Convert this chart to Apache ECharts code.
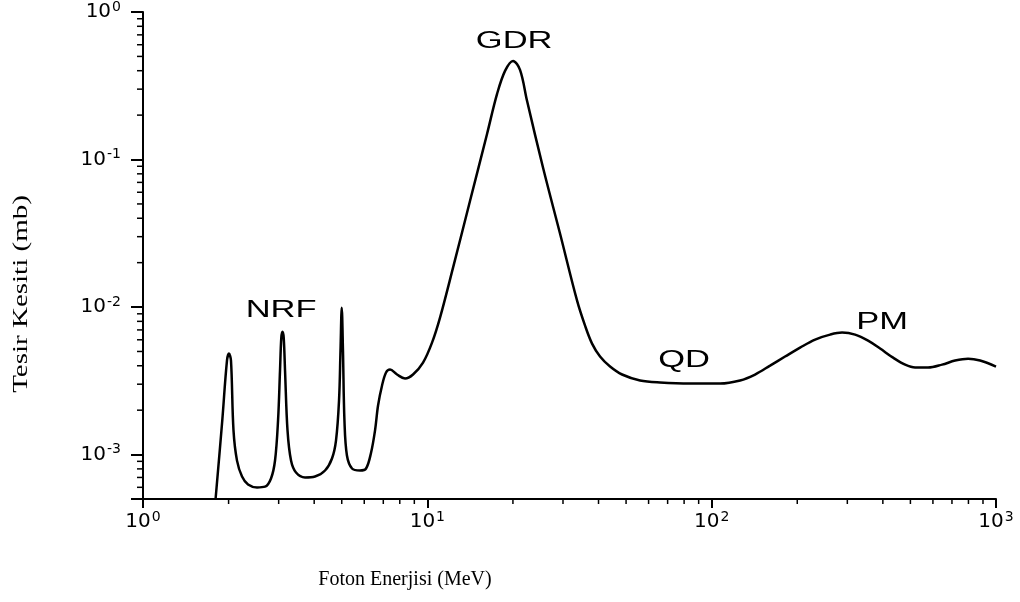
<!DOCTYPE html>
<html>
<head>
<meta charset="utf-8">
<title>Tesir Kesiti</title>
<script src="https://cdn.jsdelivr.net/npm/echarts@6/dist/echarts.min.js"></script>
<style>
html, body { margin: 0; padding: 0; background: #fff; }
#chart { width: 1020px; height: 602px; }
</style>
</head>
<body>
<div id="chart"></div>
<script>
// foton enerjisi (MeV) ve tesir kesiti (mb)
const energy = [
    1.80, 1.90, 1.974, 2.006, 2.039, 2.081, 2.141, 2.230, 2.341, 2.518,
    2.686, 2.82, 2.913, 2.985, 3.033, 3.065, 3.095, 3.125, 3.159, 3.223,
    3.316, 3.453, 3.714, 4.027, 4.367, 4.62, 4.774, 4.891, 4.95, 5.0,
    5.05, 5.111, 5.215, 5.434, 5.799, 6.088, 6.339, 6.548, 6.709, 6.93,
    7.158, 7.393, 7.824, 8.349, 8.906, 9.658, 10.388, 11.083, 12.316, 14.134,
    16.218, 17.59, 18.764, 20.014, 21.183, 22.42, 25.527, 29.298, 33.625, 35.87,
    37.96, 40.5, 43.92, 48.4, 56.0, 65.84, 83.95, 107.04, 125.86, 142.1,
    160.5, 181.2, 204.6, 231.1, 260.9, 287.5, 319.5, 354.9, 391.2, 434.6,
    479.0, 519.4, 577.0, 646.3, 718.2, 797.7, 879.2, 1000
]
const crossSection = [
    0.0005, 0.0017, 0.00434, 0.00484, 0.00434, 0.00146, 0.00091, 0.00071, 0.000627, 0.000599,
    0.000606, 0.000689, 0.000912, 0.0017, 0.00371, 0.0062, 0.00681, 0.0062, 0.00371, 0.00146,
    0.000912, 0.000756, 0.0007, 0.00071, 0.00078, 0.000941, 0.00125, 0.00232, 0.00507, 0.0099,
    0.00507, 0.0017, 0.000986, 0.000805, 0.00078, 0.000805, 0.00103, 0.00146, 0.00215, 0.00294,
    0.0036, 0.00377, 0.00349, 0.00328, 0.00349, 0.0042, 0.00574, 0.00848, 0.0185, 0.0525,
    0.149, 0.2785, 0.399, 0.466, 0.405, 0.25, 0.0879, 0.0314, 0.01105, 0.00748,
    0.00565, 0.00462, 0.00395, 0.00349, 0.00318, 0.00308, 0.00303, 0.00303, 0.00318, 0.00349,
    0.00401, 0.00462, 0.00531, 0.00602, 0.0065, 0.00671, 0.0065, 0.00592, 0.00523, 0.00454,
    0.00407, 0.00389, 0.00389, 0.00407, 0.00434, 0.00447, 0.00434, 0.00395
]

// ara çentikler (log eksen)
const xMinorTicks = [2, 3, 4, 5, 6, 7, 8, 9, 20, 30, 40, 50, 60, 70, 80, 90, 200, 300, 400, 500, 600, 700, 800, 900]
const yMinorTicks = [
    0.0006, 0.0007, 0.0008, 0.0009,
    0.002, 0.003, 0.004, 0.005, 0.006, 0.007, 0.008, 0.009,
    0.02, 0.03, 0.04, 0.05, 0.06, 0.07, 0.08, 0.09,
    0.2, 0.3, 0.4, 0.5, 0.6, 0.7, 0.8, 0.9
]

// bölge etiketleri
const peakNames = ['NRF', 'GDR', 'QD', 'PM']
const peakNameX = [3.06, 20.2, 80, 398]
const peakNameY = [0.00945, 0.625, 0.0043, 0.0079]

const xMin = 1
const xMax = 1000
const yMin = 0.0005
const yMax = 1

const chart = echarts.init(document.getElementById('chart'))

// 10^n biçiminde etiket
const powLabel = (value) => {
    const e = Math.round(Math.log10(value))
    if (Math.abs(value - Math.pow(10, e)) / value > 1e-6) return ''
    return '{b|10}{s|' + e + '}'
}

const labelRich = {
    b: { fontSize: 20, fontFamily: 'DejaVu Sans', color: '#000' },
    s: { fontSize: 14, fontFamily: 'DejaVu Sans', color: '#000', padding: [0, 0, 10, 1] },
}

const tickSeries = (values, horizontal) => ({
    type: 'custom',
    silent: true,
    clip: false,
    z: 5,
    data: values.map((v) => (horizontal ? [v, yMin] : [xMin, v])),
    renderItem: (params, api) => {
        const p = api.coord([api.value(0), api.value(1)])
        return {
            type: 'line',
            shape: horizontal
                ? { x1: p[0], y1: p[1], x2: p[0], y2: p[1] + 5 }
                : { x1: p[0] - 6, y1: p[1], x2: p[0], y2: p[1] },
            style: { stroke: '#000', lineWidth: 1.5 },
        }
    },
})

chart.setOption({
    animation: false,
    backgroundColor: '#fff',
    grid: { left: 143, right: 24, top: 11, bottom: 103 },
    xAxis: {
        type: 'log',
        logBase: 10,
        min: xMin,
        max: xMax,
        axisLine: { lineStyle: { color: '#000', width: 2 } },
        axisTick: { length: 9, lineStyle: { color: '#000', width: 2 } },
        axisLabel: { margin: 11, formatter: powLabel, rich: labelRich },
        splitLine: { show: false },
    },
    yAxis: {
        type: 'log',
        logBase: 10,
        min: yMin,
        max: yMax,
        axisLine: { lineStyle: { color: '#000', width: 2 } },
        axisTick: { length: 12, lineStyle: { color: '#000', width: 2 } },
        axisLabel: { margin: 22, formatter: powLabel, rich: labelRich },
        splitLine: { show: false },
    },
    series: [
        {
            type: 'line',
            data: energy.map((e, i) => [e, crossSection[i]]),
            showSymbol: false,
            smooth: 0.35,
            lineStyle: { color: '#000', width: 2.5 },
            z: 4,
        },
        tickSeries(xMinorTicks, true),
        tickSeries(yMinorTicks, false),
    ],
})

// etiketler ve eksen başlıkları
const graphics = peakNames.map((name, i) => {
    const p = chart.convertToPixel({ gridIndex: 0 }, [peakNameX[i], peakNameY[i]])
    return {
        type: 'text',
        x: p[0],
        y: p[1],
        scaleX: 1.5,
        style: {
            text: name,
            font: '23px "Liberation Sans"',
            fill: '#000',
            align: 'center',
            verticalAlign: 'middle',
        },
    }
})
graphics.push({
    type: 'text',
    x: 405,
    y: 580,
    style: {
        text: 'Foton Enerjisi (MeV)',
        font: '20px "Liberation Serif"',
        fill: '#000',
        align: 'center',
        verticalAlign: 'middle',
    },
})
graphics.push({
    type: 'text',
    x: 22,
    y: 294,
    rotation: Math.PI / 2,
    scaleX: 1.45,
    style: {
        text: 'Tesir Kesiti (mb)',
        font: '20px "Liberation Serif"',
        fill: '#000',
        align: 'center',
        verticalAlign: 'middle',
    },
})
chart.setOption({ graphic: graphics })
</script>
</body>
</html>
